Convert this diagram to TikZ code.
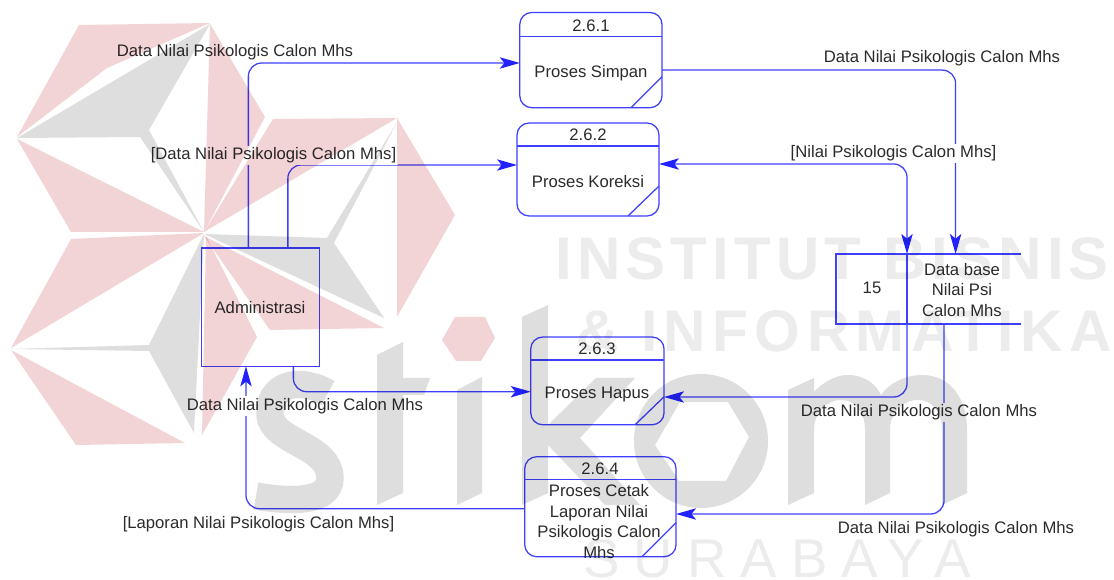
\documentclass[tikz,border=0pt]{standalone}
\usepackage{fontspec}
\setmainfont{Liberation Sans}
\newfontfamily\markone[LetterSpace=8.6]{Liberation Sans Bold}
\newfontfamily\marktwo[LetterSpace=10.9]{Liberation Sans Bold}
\newfontfamily\markthree[LetterSpace=25.6]{Liberation Sans}
\usetikzlibrary{arrows.meta, positioning, calc}
\definecolor{dfdBlue}{HTML}{3F3FFF}
\definecolor{dfdTip}{HTML}{2222FF}
\definecolor{dfdInk}{HTML}{2B2B2B}
\definecolor{markRose}{HTML}{F2D4D7}
\definecolor{markGrey}{HTML}{DEDEDE}
\definecolor{markPale}{HTML}{ECECEC}
\begin{document}
\begin{tikzpicture}[
    x=0.75pt, y=-0.75pt,
    box/.style={draw=dfdBlue, line width=0.95pt, inner sep=0pt, outer sep=0pt},
    procbox/.style={box, rounded corners=9pt},
    entity/.style={box, minimum width=88.7pt, minimum height=88.7pt},
    storebox/.style={box, minimum width=53.25pt, minimum height=52.5pt},
    procline/.style={draw=dfdBlue, line width=0.95pt},
    flow/.style={draw=dfdBlue, line width=0.95pt, rounded corners=10pt},
    flowto/.style={flow, -{Stealth[length=15pt, width=8.5pt, inset=3.5pt, color=dfdTip]}},
    flowboth/.style={flow, {Stealth[length=15pt, width=8.5pt, inset=3.5pt, color=dfdTip]}-{Stealth[length=15pt, width=8.5pt, inset=3.5pt, color=dfdTip]}},
    txt/.style={font=\fontsize{12.5}{15.3}\selectfont, text=dfdInk, inner sep=0pt, align=center},
    flowlabel/.style={txt, fill=white, inner xsep=1pt, inner ysep=1.5pt},
    rose/.style={fill=markRose},
    grey/.style={fill=markGrey},
    stroke/.style={draw=markGrey, line width=20.5pt}
]
    \fill[white] (0,0) rectangle (1114,580);
    \useasboundingbox (0,0) rectangle (1114,580);

    \node[procbox, minimum width=106.7pt, minimum height=71.4pt] (simpan) at (590.9,60.1) {};
    \node[txt] (simpanid) at (591,26) {2.6.1};
    \node[txt] (simpantext) at (591,73.5) {Proses Simpan};
    \draw[procline] ($(simpan.north west)+(0,24)$) -- ($(simpan.north east)+(0,24)$);
    \draw[procline] ($(simpan.south east)+(-31,0)$) -- ($(simpan.south east)+(0,-31)$);

    \node[procbox, minimum width=106.5pt, minimum height=69.75pt] (koreksi) at (588,169.5) {};
    \node[txt] (koreksiid) at (588,135) {2.6.2};
    \node[txt] (koreksitext) at (588,182) {Proses Koreksi};
    \draw[procline] ($(koreksi.north west)+(0,23)$) -- ($(koreksi.north east)+(0,23)$);
    \draw[procline] ($(koreksi.south east)+(-31,0)$) -- ($(koreksi.south east)+(0,-30)$);

    \node[procbox, minimum width=100pt, minimum height=65.8pt] (hapus) at (597.4,380.9) {};
    \node[txt] (hapusid) at (597,349) {2.6.3};
    \node[txt] (hapustext) at (597,394.5) {Proses Hapus};
    \draw[procline] ($(hapus.north west)+(0,23)$) -- ($(hapus.north east)+(0,23)$);
    \draw[procline] ($(hapus.south east)+(-29,0)$) -- ($(hapus.south east)+(0,-28)$);

    \node[procbox, minimum width=113.5pt, minimum height=75pt] (cetak) at (600.4,506.7) {};
    \node[txt] (cetakid) at (600,469) {2.6.4};
    \node[txt] (cetaktext) at (599,521.5) {Proses Cetak\\Laporan Nilai\\Psikologis Calon\\Mhs};
    \draw[procline] ($(cetak.north west)+(0,23)$) -- ($(cetak.north east)+(0,23)$);
    \draw[procline] ($(cetak.south east)+(-34,0)$) -- ($(cetak.south east)+(0,-34)$);

    \node[entity] (admin) at (260.5,307.2) {};
    \node[txt] (admintext) at (260,308) {Administrasi};

    \node[storebox] (store) at (871.5,289) {};
    \node[txt] (storeid) at (872,288) {15};
    \node[txt] (storetext) at (962,290) {Data base\\Nilai Psi\\Calon Mhs};
    \draw[procline] (store.north east) -- ++(114,0);
    \draw[procline] (store.south east) -- ++(114,0);
    \draw[procline] (store.north east) -- (store.south east);

    \draw[flowto] ($(admin.north west)+(47,0)$) |- ($(simpan.west)+(0,2.9)$);
    \draw[flowto] ($(admin.north west)+(86.5,0)$) |- ($(koreksi.west)+(0,-4.5)$);
    \draw[flowto] ($(admin.south west)+(92,0)$) |- ($(hapus.west)+(0,10.8)$);
    \draw[flowto] ($(cetak.west)+(0,2)$) -| ($(admin.south west)+(44.6,0)$);
    \draw[flowto] ($(simpan.east)+(0,10)$) -| ($(store.north east)+(48.6,0)$);
    \draw[flowboth] ($(koreksi.east)+(0,-5.5)$) -| (store.north east);
    \draw[flowto] (store.south east) |- ($(hapus.east)+(0,16.1)$);
    \draw[flowto] ($(store.south east)+(37,0)$) |- ($(cetak.east)+(0,7.3)$);

    \node[flowlabel] (labelone) at (235,52.5) {Data Nilai Psikologis Calon Mhs};
    \node[flowlabel] (labeltwo) at (273.5,155.5) {[Data Nilai Psikologis Calon Mhs]};
    \node[flowlabel] (labelthree) at (942,58.5) {Data Nilai Psikologis Calon Mhs};
    \node[flowlabel] (labelfour) at (893.5,153.5) {[Nilai Psikologis Calon Mhs]};
    \node[flowlabel] (labelfive) at (305,406) {Data Nilai Psikologis Calon Mhs};
    \node[flowlabel] (labelsix) at (919,412.5) {Data Nilai Psikologis Calon Mhs};
    \node[flowlabel] (labelseven) at (956,529.5) {Data Nilai Psikologis Calon Mhs};
    \node[flowlabel] (labeleight) at (258.5,524.5) {[Laporan Nilai Psikologis Calon Mhs]};

    \begin{scope}[blend mode=multiply]
        \fill[rose] (79,25) -- (210,23) -- (107,68) -- (17,137) -- cycle;
        \fill[grey] (17,138) -- (210,24) -- (149,130) -- (204,232) -- (140,137) -- cycle;
        \fill[rose] (210,24) -- (265,117) -- (204,232) -- cycle;
        \fill[rose] (17,139) -- (204,232) -- (71,232) -- cycle;
        \fill[rose] (273,119) -- (397,118) -- (204,232) -- cycle;
        \fill[rose] (397,118) -- (455,215) -- (397,317) -- cycle;
        \fill[grey] (397,122) -- (334,243) -- (384,318) -- (204,234) -- (327,238) -- cycle;
        \fill[rose] (204,236) -- (384,328) -- (270,330) -- cycle;
        \fill[rose] (71,239) -- (204,233) -- (11,348) -- cycle;
        \fill[grey] (204,234) -- (149,345) -- (11,349) -- (149,351) -- (194,433) -- cycle;
        \fill[rose] (11,350) -- (185,443) -- (76,445) -- cycle;
        \fill[rose] (206,236) -- (257,337) -- (202,435) -- cycle;
        \fill[rose] (455,317) -- (485,317) -- (495,338) -- (481,361) -- (456,361) -- (442,340) -- cycle;

        \draw[stroke] (328,393) .. controls (298,376) and (268,385) .. (270,415) .. controls (272,442) and (330,445) .. (330,478) .. controls (330,503) and (290,502) .. (256,496);
        \fill[grey] (377,355) -- (403,342) -- (403,378) -- (430,378) -- (424,395) -- (403,395) -- (403,493) -- (377,505) -- cycle;
        \fill[grey] (457,390) -- (482,377) -- (482,493) -- (457,505) -- cycle;
        \fill[grey] (522,317) -- (548,305) -- (548,425) -- (596,378) -- (635,378) -- (580,438) -- (640,505) -- (605,505) -- (548,445) -- (548,493) -- (522,505) -- cycle;
        \fill[grey, even odd rule] (701,441) ellipse [x radius=67, y radius=67] (680,402) -- (728,402) -- (749,437) -- (726,481) -- (679,481) -- (655,445) -- cycle;
        \fill[grey] (788,390) -- (814,378) -- (814,392) .. controls (825,380) and (838,375) .. (848,375) .. controls (862,375) and (875,382) .. (881,395) .. controls (890,382) and (907,375) .. (922,375) .. controls (950,375) and (967,398) .. (967,430) -- (967,493) -- (942,505) -- (942,430) .. controls (942,412) and (932,400) .. (918,400) .. controls (903,400) and (890,412) .. (890,430) -- (890,493) -- (865,505) -- (865,430) .. controls (865,412) and (855,400) .. (841,400) .. controls (827,400) and (814,412) .. (814,430) -- (814,493) -- (788,505) -- cycle;

        \node[font=\markone\fontsize{45}{45}\selectfont, text=markPale, inner sep=0pt, anchor=base west] (markinstitut) at (555,280) {INSTITUT BISNIS};
        \node[font=\marktwo\fontsize{44}{44}\selectfont, text=markPale, inner sep=0pt, anchor=base west] (markinformatika) at (576,352) {\& INFORMATIKA};
        \node[font=\markthree\fontsize{41}{41}\selectfont, text=markPale, inner sep=0pt, anchor=base west] (marksurabaya) at (583,578) {SURABAYA};
    \end{scope}
\end{tikzpicture}
\end{document}
